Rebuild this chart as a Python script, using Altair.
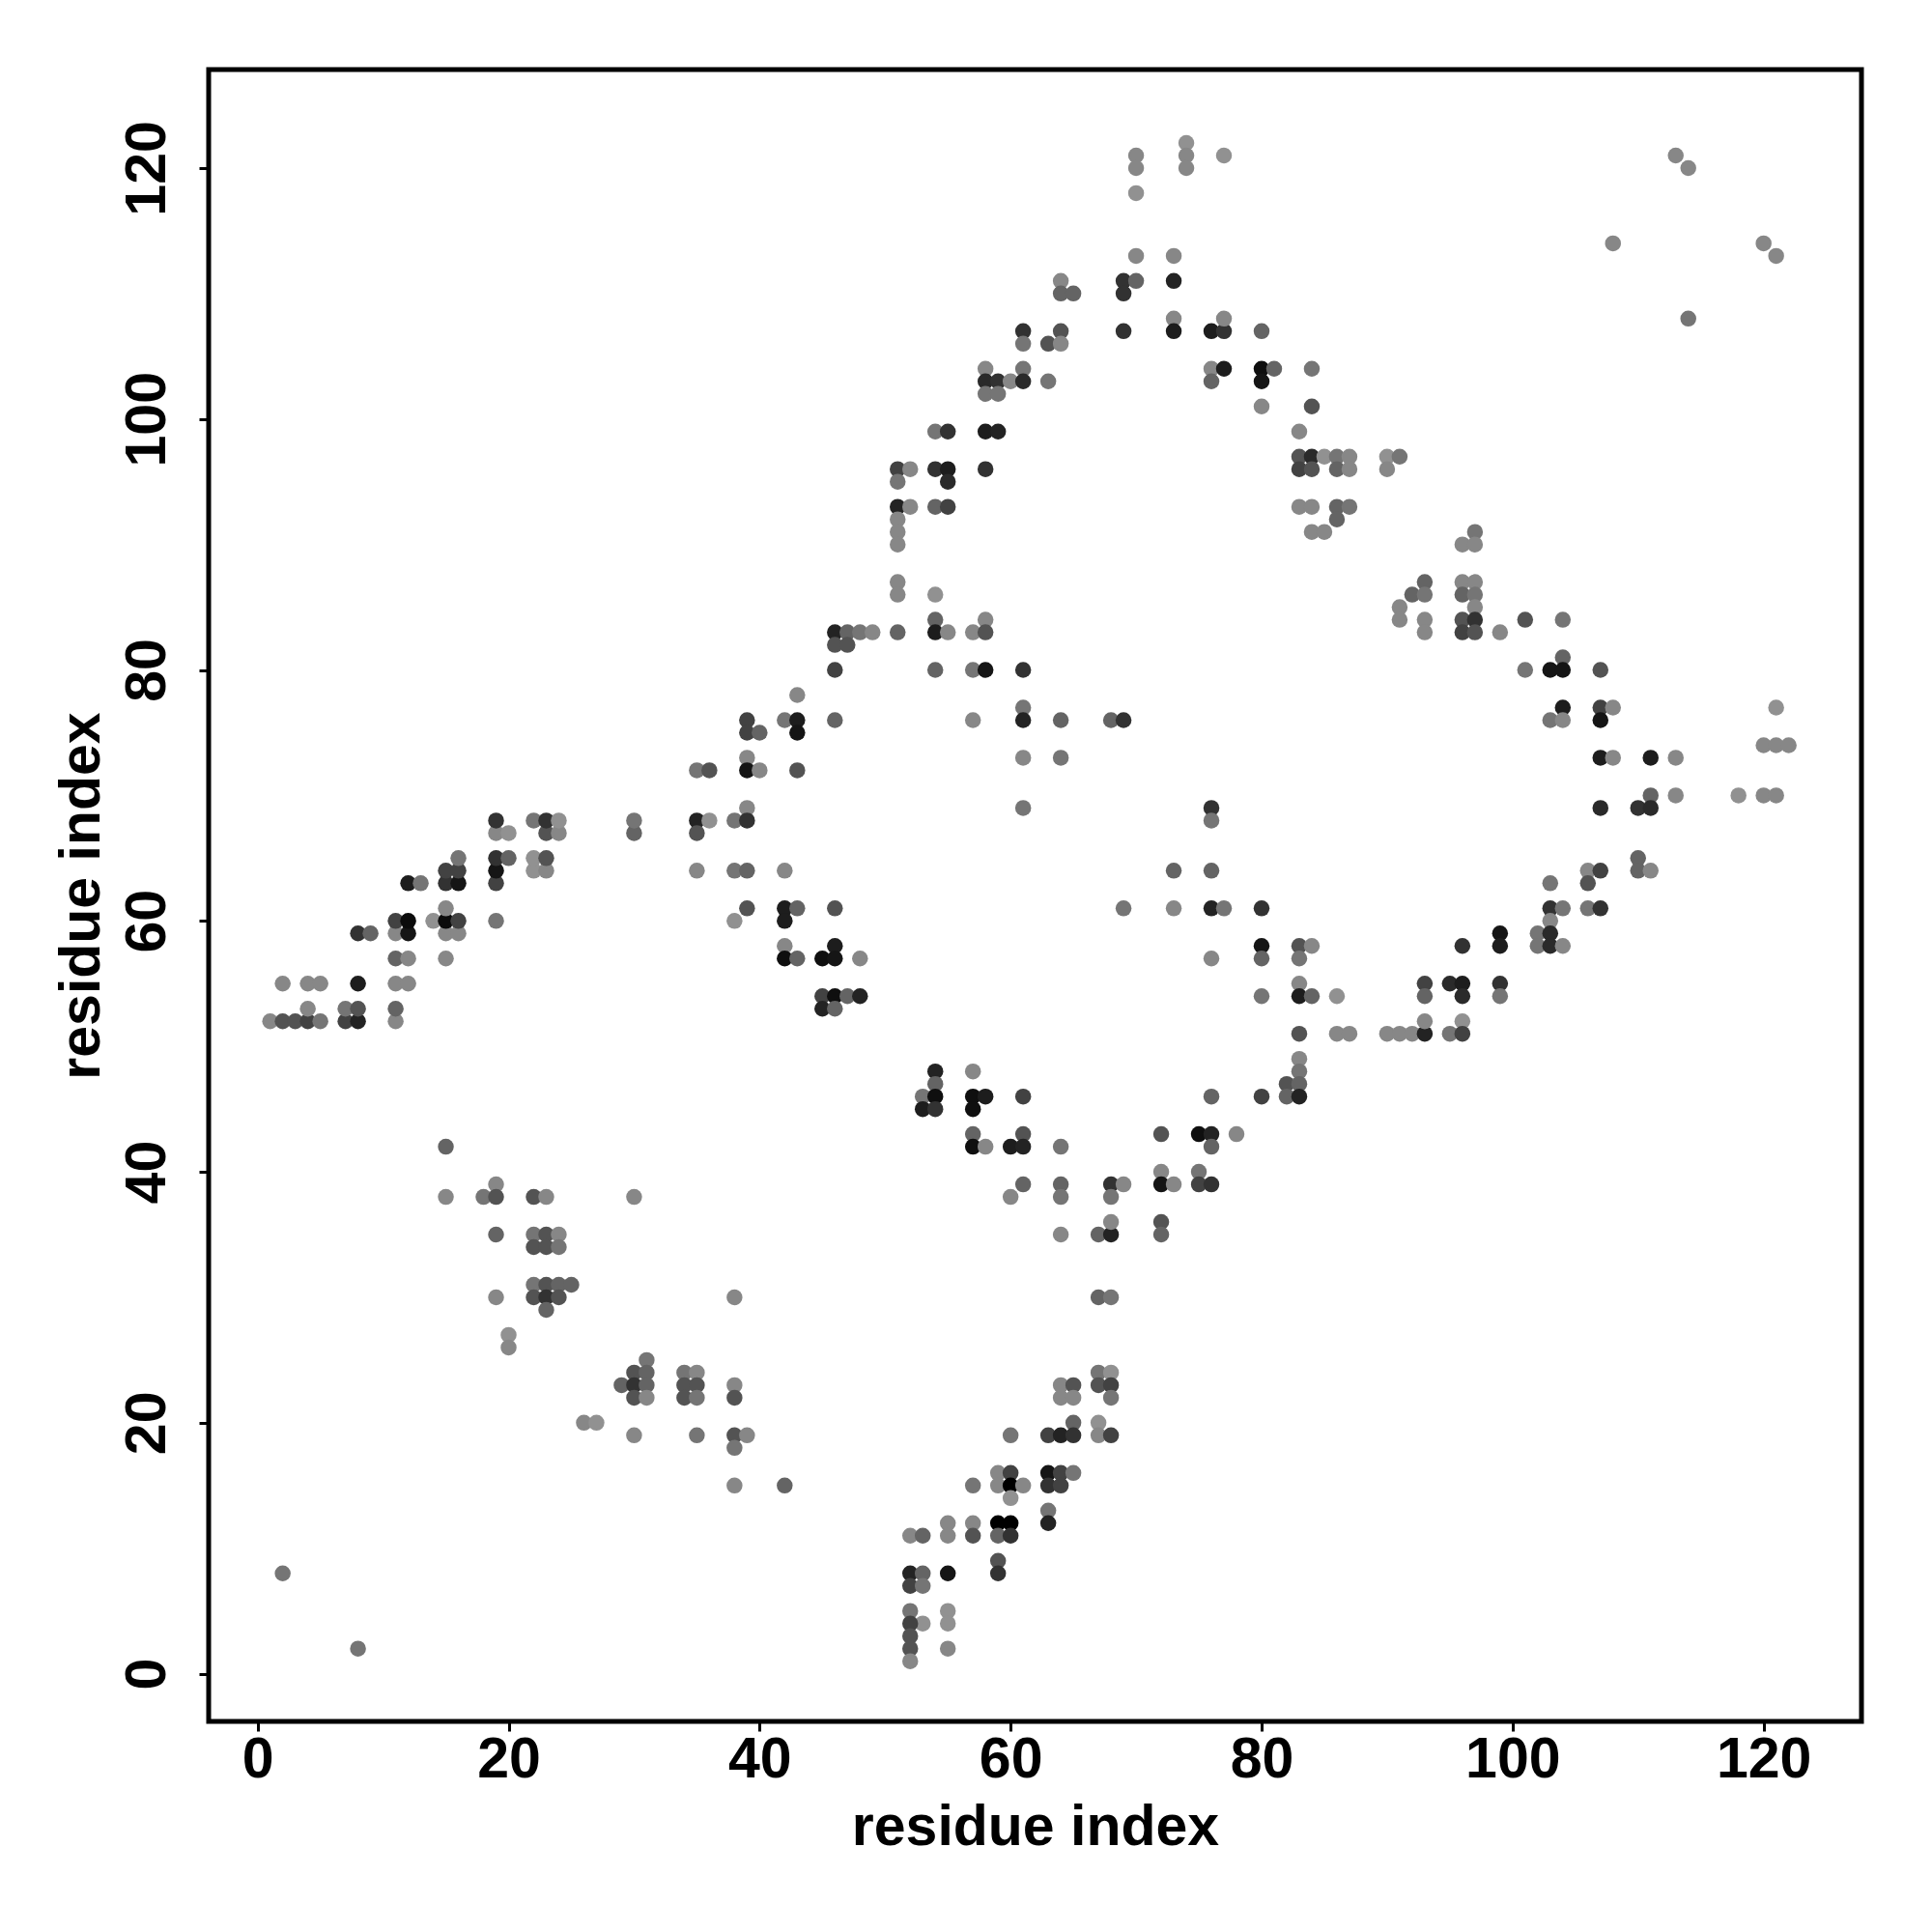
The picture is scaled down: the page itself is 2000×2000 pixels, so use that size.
import altair as alt
import pandas as pd

# (i, j, strength) contacts, grouped by region
left_arm = [
    (1,52,.11),(2,52,.44),(3,52,.44),(4,52,.56),(5,52,.22),(7,52,.56),(8,52,.78),(11,52,.11),
    (4,53,.11),(7,53,.22),(8,53,.44),(11,53,.33),
    (2,55,.11),(4,55,.11),(5,55,.11),(8,55,.83),(11,55,.11),(12,55,.11),
    (11,57,.33),(12,57,.11),(15,57,.11),
    (8,59,.67),(9,59,.33),(11,59,.11),(12,59,.89),(15,59,.11),(16,59,.11),
    (11,60,.56),(12,60,.95),(14,60,.05),(15,60,.95),(16,60,.56),(19,60,.22),
    (15,61,.11),
    (12,63,.83),(13,63,.22),(15,63,.67),(16,63,.89),(19,63,.56),
    (15,64,.56),(16,64,.56),(19,64,.89),(22,64,.05),(23,64,.11),
    (16,65,.22),(19,65,.67),(20,65,.33),(22,65,.05),(23,65,.44),
    (19,67,.11),(20,67,.05),(23,67,.44),(24,67,.11),(30,67,.33),
    (19,68,.67),(22,68,.22),(23,68,.67),(24,68,.05),(30,68,.22),
    (15,42,.33),
]

lower_left = [
    (15,38,.11),(18,38,.22),(19,39,.11),(19,38,.44),(22,38,.44),(23,38,.11),(30,38,.11),
    (19,35,.33),(22,35,.22),(23,35,.44),(24,35,.11),
    (22,34,.44),(23,34,.44),(24,34,.22),
    (22,31,.22),(23,31,.44),(24,31,.33),(25,31,.33),
    (19,30,.11),(22,30,.44),(23,30,.67),(24,30,.44),
    (23,29,.33),(20,27,.05),(20,26,.11),(26,20,.11),(27,20,.05),(30,19,.11),
    (2,8,.22),(8,2,.22),(29,23,.33),
    (31,25,.22),(30,24,.44),(31,24,.33),(30,23,.67),(31,23,.33),(30,22,.44),(31,22,.11),
    (34,24,.22),(35,24,.11),(34,23,.44),(35,23,.44),(34,22,.44),(35,22,.22),
    (38,23,.11),(38,22,.44),
    (35,19,.22),(38,19,.44),(39,19,.11),(38,18,.22),
    (38,15,.11),(42,15,.33),(38,30,.11),
]

lower_mid = [
    (60,38,.11),(61,39,.33),
    (60,19,.22),(59,16,.11),(60,16,.56),(59,15,.11),(60,15,1.0),(61,15,.11),(60,14,.05),(57,15,.22),
    (55,12,.11),(55,11,.11),(57,12,.11),(57,11,.44),(59,12,1.0),(60,12,1.0),(59,11,.33),(60,11,.67),
    (52,11,.11),(53,11,.33),(59,9,.44),(59,8,.67),
    (52,8,.78),(53,8,.33),(55,8,.89),(52,7,.56),(53,7,.22),
    (52,5,.22),(53,4,.05),(52,4,.56),(52,3,.44),(52,2,.44),(52,1,.11),
    (55,5,.05),(55,4,.05),(55,2,.11),
    (64,39,.33),(64,38,.22),(68,39,.67),(69,39,.11),(68,38,.22),
    (72,40,.11),(72,39,.89),(73,39,.11),(75,40,.22),(75,39,.56),(76,39,.67),
    (64,35,.11),(67,35,.33),(68,35,.78),(68,36,.11),(72,36,.44),(72,35,.33),
    (67,30,.33),(68,30,.22),(67,24,.22),(68,24,.05),
    (64,23,.11),(65,23,.44),(67,23,.44),(68,23,.56),
    (64,22,.11),(65,22,.11),(68,22,.22),(65,20,.33),(67,20,.05),
    (63,19,.56),(64,19,.78),(65,19,.67),(67,19,.11),(68,19,.56),
    (63,16,.89),(64,16,.56),(65,16,.22),(63,15,.67),(64,15,.56),
    (63,13,.22),(63,12,.78),
]

centre = [
    (61,107,.67),(61,106,.22),(58,104,.11),(58,103,.73),(59,103,.67),(58,102,.22),(59,102,.22),
    (60,103,.11),(61,104,.22),(61,103,.73),
    (54,99,.22),(55,99,.67),(58,99,.83),(59,99,.78),
    (51,96,.56),(52,96,.11),(51,95,.22),(54,96,.67),(55,96,.83),(55,95,.73),(58,96,.67),
    (51,93,.78),(52,93,.11),(54,93,.33),(55,93,.56),
    (51,92,.11),(51,91,.11),(51,90,.11),(51,87,.11),(51,86,.11),(54,86,.05),(54,84,.33),(58,84,.11),
    (46,83,.78),(47,83,.33),(48,83,.22),(49,83,.11),(51,83,.33),(54,83,.83),(55,83,.11),(57,83,.11),(58,83,.44),
    (46,82,.44),(47,82,.44),
    (46,80,.56),(54,80,.33),(57,80,.22),(58,80,.89),(61,80,.67),
    (43,78,.11),(61,77,.22),
    (39,76,.56),(42,76,.22),(43,76,.83),(46,76,.33),(57,76,.11),(61,76,.78),
    (39,75,.56),(40,75,.33),(43,75,.89),
    (39,73,.11),(61,73,.11),
    (35,72,.22),(36,72,.44),(39,72,.89),(40,72,.11),(43,72,.44),
    (39,69,.11),(61,69,.22),
    (35,68,.78),(36,68,.05),(38,68,.22),(39,68,.67),(35,67,.44),
    (35,64,.11),(38,64,.22),(39,64,.33),(42,64,.11),
    (39,61,.44),(42,61,.83),(43,61,.33),(46,61,.44),
    (38,60,.05),(42,60,.83),(42,58,.11),(46,58,.83),
    (42,57,.93),(43,57,.33),(45,57,.93),(46,57,.89),(48,57,.11),
    (45,54,.56),(46,54,.93),(47,54,.33),(48,54,.78),(45,53,.78),(46,53,.33),
    (54,48,.78),(57,48,.11),(54,47,.33),
    (53,46,.22),(54,46,.93),(57,46,.93),(58,46,.83),(61,46,.56),
    (53,45,.83),(54,45,.67),(57,45,.93),
    (57,43,.33),(61,43,.44),
    (57,42,.93),(58,42,.11),(60,42,.83),(61,42,.78),
]

upper = [
    (70,121,.11),(70,120,.11),(70,118,.05),(74,122,.05),(74,121,.11),(74,120,.11),(77,121,.05),
    (70,113,.11),(73,113,.11),
    (64,111,.11),(64,110,.33),(65,110,.33),(69,111,.67),(70,111,.33),(69,110,.67),(73,111,.78),
    (63,106,.44),(64,107,.44),(64,106,.11),(69,107,.67),(73,108,.11),(73,107,.83),(76,107,.83),
    (77,107,.67),(77,108,.11),(80,107,.33),
    (63,103,.22),(76,104,.11),(77,104,.83),(76,103,.33),(80,104,.93),(81,104,.33),(80,103,.89),(84,104,.22),
    (80,101,.11),(84,101,.44),(83,99,.11),
    (83,97,.44),(84,97,.73),(85,97,.05),(86,97,.22),(87,97,.11),(90,97,.05),(91,97,.22),
    (83,96,.56),(84,96,.44),(86,96,.33),(87,96,.11),(90,96,.11),
    (83,93,.11),(84,93,.11),(86,93,.33),(87,93,.22),
    (86,92,.33),(84,91,.11),(85,91,.11),
    (93,87,.33),(92,86,.33),(93,86,.22),(91,85,.11),(91,84,.11),(93,84,.11),(93,83,.11),
]

mid_right = [
    (64,76,.33),(68,76,.33),(69,76,.67),(64,73,.22),
    (76,69,.67),(76,68,.22),(73,64,.33),(76,64,.33),
    (69,61,.22),(73,61,.11),(76,61,.78),(77,61,.22),(80,61,.67),
    (80,58,.89),(80,57,.33),(76,57,.11),(83,58,.44),(84,58,.11),(83,57,.22),
    (80,54,.22),(83,55,.11),(83,54,.83),(84,54,.33),(86,54,.05),
    (93,55,.56),(93,54,.33),
    (83,51,.44),(86,51,.11),(87,51,.11),(90,51,.11),(91,51,.11),(92,51,.11),(93,51,.78),(93,52,.11),
    (83,49,.11),(83,48,.22),(82,47,.44),(83,47,.33),(82,46,.33),(83,46,.78),
    (76,46,.33),(80,46,.56),(64,42,.22),
    (72,43,.44),(75,43,.93),(76,43,.78),(78,43,.11),(76,42,.33),
]

right = [
    (113,121,.11),(114,120,.11),(108,114,.11),(120,114,.11),(121,113,.11),(114,108,.22),
    (97,91,.22),(96,90,.11),(97,90,.11),
    (96,87,.11),(97,87,.11),(96,86,.33),(97,86,.22),(97,85,.11),(96,84,.44),(97,84,.67),
    (101,84,.44),(104,84,.22),(96,83,.56),(97,83,.44),(99,83,.11),
    (104,81,.33),(101,80,.22),(103,80,.89),(104,80,.89),(107,80,.44),
    (104,77,.83),(107,77,.56),(108,77,.11),(121,77,.05),
    (103,76,.22),(104,76,.11),(107,76,.89),
    (120,74,.11),(121,74,.11),(122,74,.11),
    (107,73,.83),(108,73,.11),(111,73,.83),(113,73,.11),
    (111,70,.33),(113,70,.11),(118,70,.05),(120,70,.11),(121,70,.11),
    (107,69,.73),(110,69,.67),(111,69,.73),(110,65,.33),
    (106,64,.11),(107,64,.56),(110,64,.33),(111,64,.11),
    (106,63,.44),(103,63,.22),
    (103,61,.67),(104,61,.22),(106,61,.22),(107,61,.67),(103,60,.11),
    (99,59,.89),(102,59,.22),(103,59,.73),
    (96,58,.67),(99,58,.83),(102,58,.22),(103,58,.73),(104,58,.11),
    (95,55,.73),(96,55,.83),(99,55,.67),(96,54,.73),(99,54,.22),
    (96,52,.05),(95,51,.22),(96,51,.56),
]

tick_values = [0, 20, 40, 60, 80, 100, 120]
axis_title = "residue index"

rows = left_arm + lower_left + lower_mid + centre + upper + mid_right + right
df = pd.DataFrame(rows, columns=["i", "j", "strength"])

FONT = "Liberation Sans"
W, H = 1711, 1710
FS = 59

common = dict(
    values=tick_values, grid=False, domain=False,
    tickSize=10, tickWidth=3, tickColor="black",
    labelFont=FONT, labelFontSize=FS, labelFontWeight="bold", labelColor="black",
    labelFlush=False, labelOverlap=False, labelBaseline="alphabetic", labelAlign="center",
    titleFont=FONT, titleFontSize=FS, titleFontWeight="bold", titleColor="black",
    titleBaseline="alphabetic", titleAlign="center",
)

chart = alt.Chart(df).mark_circle(size=272, opacity=1).encode(
    x=alt.X("i:Q", scale=alt.Scale(domain=[-3.9, 127.8], nice=False, zero=False),
            axis=alt.Axis(title=axis_title, labelPadding=47, titleX=W / 2, titleY=127, **common)),
    y=alt.Y("j:Q", scale=alt.Scale(domain=[-3.8, 127.85], nice=False, zero=False),
            axis=alt.Axis(title=axis_title, labelAngle=270, labelPadding=36,
                          titleAngle=270, titleX=-114, titleY=H / 2, **common)),
    color=alt.Color("strength:Q", scale=alt.Scale(domain=[0, 1], range=["#999999", "#000000"]), legend=None),
).properties(
    width=W, height=H,
    autosize=alt.AutoSizeParams(type="none"),
    padding={"left": 208, "top": 64, "right": 65, "bottom": 210},
    background="white",
).configure_view(stroke="black", strokeWidth=5)

chart.save("out.html", embed_options={"renderer": "svg", "actions": False})
